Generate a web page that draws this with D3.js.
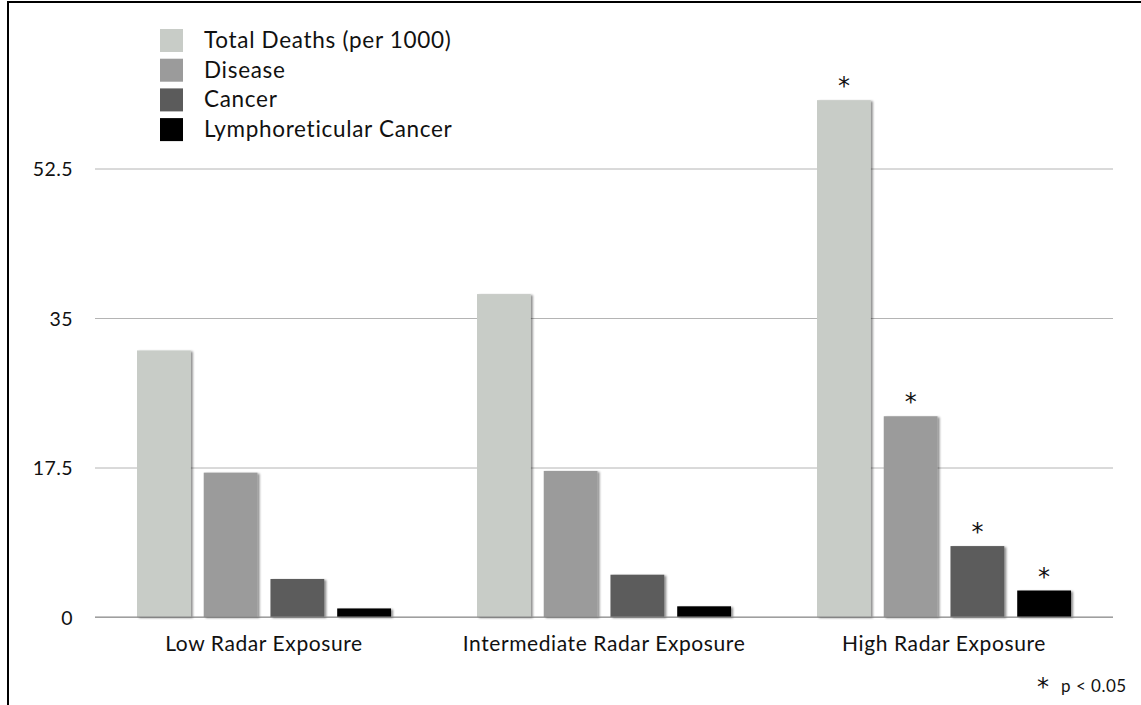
<!DOCTYPE html>
<html>
<head>
<meta charset="utf-8">
<script src="https://cdn.jsdelivr.net/npm/d3@7"></script>
<style>
  html, body { margin: 0; padding: 0; background: #fff; }
  svg { display: block; }
  text { font-family: Lato, "Open Sans", sans-serif; fill: #111; }
  text.ast { font-family: "DejaVu Sans", sans-serif; }
</style>
</head>
<body>
<svg id="chart" width="1141" height="705"></svg>
<script>
const categories = ["Low Radar Exposure", "Intermediate Radar Exposure", "High Radar Exposure"];
const seriesNames = ["Total Deaths (per 1000)", "Disease", "Cancer", "Lymphoreticular Cancer"];
const seriesColors = ["#c8ccc7", "#9b9b9b", "#5b5b5b", "#000000"];
const totalDeaths = [31.2, 37.8, 60.5];
const disease = [16.9, 17.1, 23.5];
const cancer = [4.45, 4.95, 8.3];
const lymphoreticular = [1.0, 1.25, 3.1];
const significant = [false, false, true]; // p < 0.05 marker per category
const yTicks = [0, 17.5, 35, 52.5];

const seriesValues = [totalDeaths, disease, cancer, lymphoreticular];

const svg = d3.select("#chart");

// drop shadow filter
const defs = svg.append("defs");
const f = defs.append("filter").attr("id", "shadow").attr("x", "-20%").attr("y", "-20%").attr("width", "150%").attr("height", "150%");
f.append("feDropShadow").attr("dx", 2).attr("dy", 1).attr("stdDeviation", 1.3)
  .attr("flood-color", "#000").attr("flood-opacity", 0.45);

// frame
svg.append("line").attr("x1", 8).attr("x2", 1141).attr("y1", 2).attr("y2", 2).attr("stroke", "#000").attr("stroke-width", 2);
svg.append("line").attr("x1", 8).attr("x2", 8).attr("y1", 1).attr("y2", 705).attr("stroke", "#000").attr("stroke-width", 2);

const x0 = d3.scaleBand().domain(categories).range([95, 1113]).paddingInner(0.253).paddingOuter(0.1235);
const x1 = d3.scaleBand().domain(seriesNames).range([0, x0.bandwidth()]).paddingInner(0.194).paddingOuter(0);
const y = d3.scaleLinear().domain([0, 52.5]).range([617, 168.5]);

// grid
const yAxis = d3.axisLeft(y).tickValues(yTicks).tickSize(-(1113 - 95)).tickPadding(22)
  .tickFormat(d => d === 0 ? "0" : String(d));
const gy = svg.append("g").attr("transform", "translate(95,0)").call(yAxis);
gy.select(".domain").remove();
gy.selectAll(".tick line").attr("stroke", "#b4b4b4").attr("stroke-width", 1);
gy.selectAll(".tick text").attr("font-size", 19.5).attr("letter-spacing", 0.4).attr("fill", "#111").attr("dy", "0.36em");

// bars
const groups = svg.append("g").selectAll("g").data(categories).join("g")
  .attr("transform", d => `translate(${x0(d)},0)`);

groups.selectAll("rect").data((c, ci) => seriesNames.map((s, si) => ({ s, si, ci, v: seriesValues[si][ci] })))
  .join("rect")
  .attr("x", d => x1(d.s))
  .attr("width", x1.bandwidth())
  .attr("y", d => y(d.v))
  .attr("height", d => y(0) - y(d.v))
  .attr("fill", d => seriesColors[d.si])
  .attr("filter", "url(#shadow)");

// asterisks
groups.selectAll("text.ast").data((c, ci) => significant[ci] ? seriesNames.map((s, si) => ({ s, si, v: seriesValues[si][ci] })) : [])
  .join("text").attr("class", "ast")
  .attr("x", d => x1(d.s) + x1.bandwidth() / 2)
  .attr("y", d => y(d.v) - 6)
  .attr("text-anchor", "middle")
  .attr("font-size", 24)
  .text("*");

// baseline redraw over bars
svg.append("line").attr("x1", 95).attr("x2", 1113).attr("y1", y(0)).attr("y2", y(0)).attr("stroke", "#8a8a8a").attr("stroke-width", 1);

// x axis labels
const xAxis = d3.axisBottom(x0).tickSize(0).tickPadding(19);
const gx = svg.append("g").attr("transform", `translate(0,${y(0)})`).call(xAxis);
gx.select(".domain").remove();
gx.selectAll(".tick text").attr("font-size", 21).attr("letter-spacing", 0.6).attr("fill", "#111");

// legend
const legend = svg.append("g");
seriesNames.forEach((s, i) => {
  const gy0 = 29 + i * 29.7;
  legend.append("rect").attr("x", 160).attr("y", gy0).attr("width", 23).attr("height", 23).attr("fill", seriesColors[i]);
  legend.append("text").attr("x", 204).attr("y", gy0 + 19).attr("font-size", 22.5).attr("letter-spacing", 0.7).text(s);
});

// footnote
svg.append("text").attr("class", "ast").attr("x", 1043).attr("y", 695).attr("text-anchor", "middle")
  .attr("font-size", 24).text("*");
svg.append("text").attr("x", 1061).attr("y", 692).attr("font-size", 17).attr("letter-spacing", 0.5).text("p < 0.05");
</script>
</body>
</html>
